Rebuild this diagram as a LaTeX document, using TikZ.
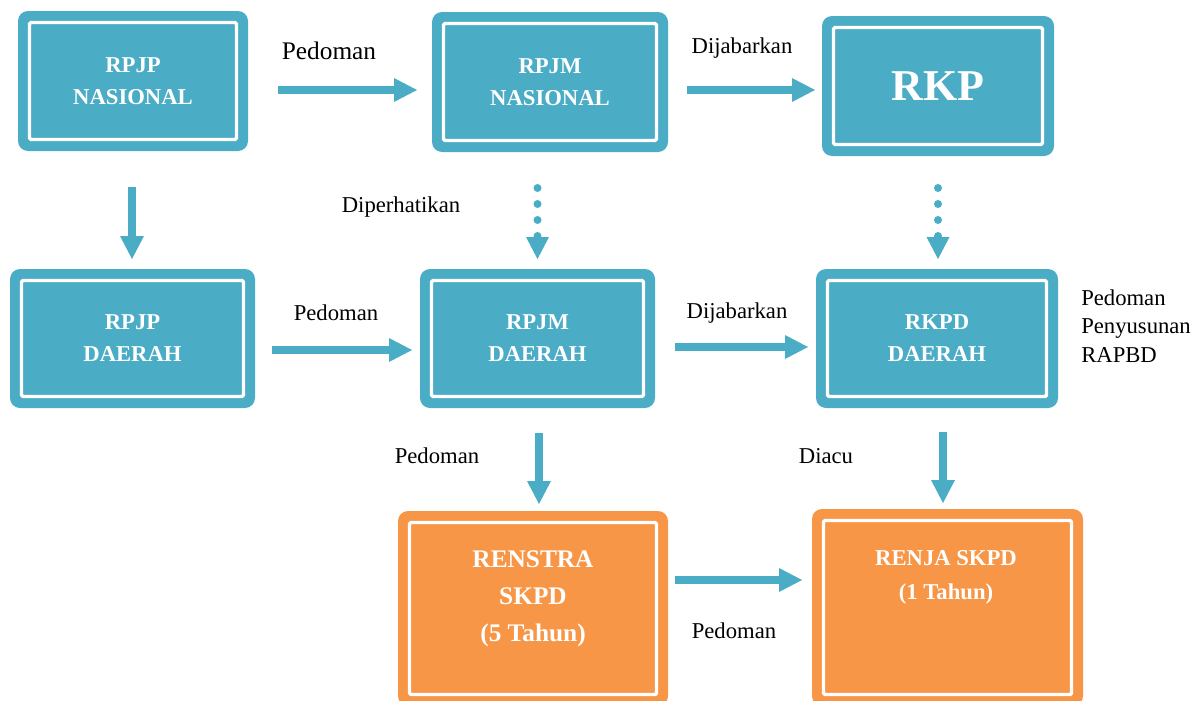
\documentclass[tikz,border=0pt]{standalone}
\usepackage{fontspec}
\setmainfont{Liberation Serif}
\usetikzlibrary{arrows.meta,calc}
\newdimen\pxu \pxu=0.75pt
\definecolor{teal1}{HTML}{4BACC6}
\definecolor{orng}{HTML}{F79646}
\tikzset{
  boxbase/.style={rectangle, rounded corners=7.5pt, outer sep=0pt, inner sep=0pt,
    text=white, align=center,
    path picture={\draw[white, line width=2.6pt, rounded corners=1.1pt]
      ($(path picture bounding box.north west)+(11.5,11.5)$) rectangle
      ($(path picture bounding box.south east)+(-11.5,-11.5)$);}},
  tealbox/.style={boxbase, fill=teal1, font={\fontsize{17}{24}\selectfont\bfseries}},
  orangebox/.style={boxbase, fill=orng},
  otext/.style={text=white, align=center, inner sep=0pt},
  lbl/.style={text=black, inner sep=0pt, font={\fontsize{17}{21.75}\selectfont}},
  arr/.style={draw=teal1, line width=5.6pt,
    -{Triangle[length=17.25pt, width=18pt, line width=0pt]}},
  dotarr/.style={draw=teal1, line width=6pt, line cap=round,
    dash pattern=on 0pt off 12pt,
    -{Triangle[length=16.5pt, width=17.25pt, line width=0pt]}},
}
\begin{document}
\begin{tikzpicture}[x=0.75pt, y=-0.75pt]
\useasboundingbox (0,0) rectangle (1196,700);

% boxes
\node[tealbox, minimum width=230\pxu, minimum height=140\pxu] (b1) at (133,81) {RPJP\\NASIONAL};
\node[tealbox, minimum width=236\pxu, minimum height=140\pxu] (b2) at (550,82) {RPJM\\NASIONAL};
\node[tealbox, minimum width=232\pxu, minimum height=140\pxu, font={\fontsize{33}{36}\selectfont\bfseries}] (b3) at (938,86) {RKP};
\node[tealbox, minimum width=245\pxu, minimum height=139\pxu] (b4) at (132.5,338.5) {RPJP\\DAERAH};
\node[tealbox, minimum width=235\pxu, minimum height=139\pxu] (b5) at (537.5,338.5) {RPJM\\DAERAH};
\node[tealbox, minimum width=242\pxu, minimum height=139\pxu] (b6) at (937,338.5) {RKPD\\DAERAH};
\node[orangebox, minimum width=270\pxu, minimum height=195\pxu] (b7) at (533,608.5) {};
\node[orangebox, minimum width=271\pxu, minimum height=197\pxu] (b8) at (947.5,607.5) {};
\node[otext, font={\fontsize{19}{27.75}\selectfont\bfseries}] (t7) at (533,599) {RENSTRA\\SKPD\\(5 Tahun)};
\node[otext, font={\fontsize{17}{25.5}\selectfont\bfseries}] (t8) at (946,577) {RENJA SKPD\\(1 Tahun)};

% labels
\node[lbl, font={\fontsize{19}{23}\selectfont}] (l1) at (329,50.5) {Pedoman};
\node[lbl] (l2) at (742,48) {Dijabarkan};
\node[lbl] (l3) at (401,207) {Diperhatikan};
\node[lbl] (l4) at (336,312.5) {Pedoman};
\node[lbl] (l5) at (737,313) {Dijabarkan};
\node[lbl, align=left, anchor=north west] (l6) at (1081,289) {Pedoman\\Penyusunan\\RAPBD};
\node[lbl] (l7) at (437,456) {Pedoman};
\node[lbl] (l8) at (826,456) {Diacu};
\node[lbl] (l9) at (734,631) {Pedoman};

% connectors
\draw[arr] ($(b1.east)+(30,9)$) -- ($(b2.west)+(-15,8)$);
\draw[arr] ($(b2.east)+(19,8)$) -- ($(b3.west)+(-7,4)$);
\draw[arr] ($(b1.south)+(-1,36)$) -- ($(b4.north)+(-0.5,-10)$);
\coordinate (d1) at (b5.north |- b2.south);
\draw[dotarr] ($(d1)+(0,36)$) -- ($(b5.north)+(0,-10)$);
\draw[dotarr] ($(b3.south)+(0,32)$) -- ($(b6.north)+(1,-10)$);
\draw[arr] ($(b4.east)+(17,11.5)$) -- ($(b5.west)+(-8,11.5)$);
\draw[arr] ($(b5.east)+(20,8.5)$) -- ($(b6.west)+(-8,8.5)$);
\draw[arr] ($(b5.south)+(1.5,25)$) -- ($(b7.north)+(6,-7)$);
\draw[arr] ($(b6.south)+(6,24)$) -- ($(b8.north)+(-4.5,-6)$);
\draw[arr] ($(b7.east)+(7,-28.5)$) -- ($(b8.west)+(-10,-27.5)$);
\end{tikzpicture}
\end{document}
